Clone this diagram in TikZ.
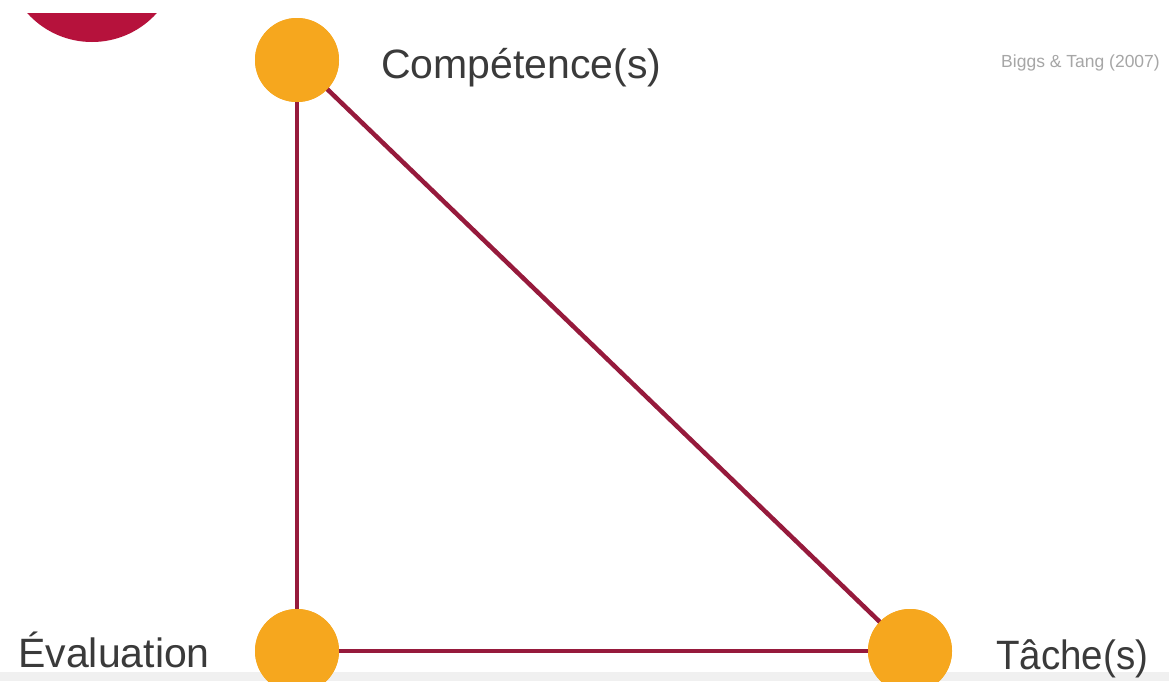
\documentclass[tikz,border=0pt]{standalone}
\usepackage{fontspec}
\setmainfont{Liberation Sans}
\usetikzlibrary{positioning}

\definecolor{pointcol}{RGB}{246,167,30}
\definecolor{edgecol}{RGB}{150,26,60}
\definecolor{blobcol}{RGB}{182,18,60}
\definecolor{labcol}{RGB}{58,58,58}

\begin{document}
\begin{tikzpicture}[
  x=1pt, y=-1pt,
  pt/.style={circle, fill=pointcol, minimum size=84pt, inner sep=0pt},
  edge/.style={draw=edgecol, line width=4.5pt},
  lab/.style={text=labcol, inner sep=0pt, font=\fontsize{41}{47}\selectfont}
]
\useasboundingbox (0,0) rectangle (1169,681);
\clip (0,0) rectangle (1169,681);
\fill[white] (0,0) rectangle (1169,681);
\fill[gray!12] (0,672) rectangle (1169,681);
% cut-off disc, top left
\begin{scope}
  \clip (0,13) rectangle (300,200);
  \fill[blobcol] (92,-45) circle[radius=87];
\end{scope}
% corners
\node[pt] (comp) at (297,60) {};
\node[pt] (eval) at (297,651) {};
\node[pt] (tache) at (910,651) {};
% labels
\node[lab, anchor=base west] (complab) at (381,78) {Compétence(s)};
\node[lab, anchor=base east] (evallab) at (210,667) {Évaluation};
\node[lab, anchor=base west, xscale=0.94] (tachelab) at (996,669) {Tâche(s)};
\node[text=gray!70, font=\fontsize{17.5}{20}\selectfont, anchor=east, inner sep=0pt] (src) at (1160,63) {Biggs \& Tang (2007)};
% sides, then corners redrawn on top
\path[edge] (comp.center) -- (eval.center);
\path[edge] (eval.center) -- (tache.center);
\path[edge] (comp.center) -- (tache.center);
\node[pt] at (comp) {};
\node[pt] at (eval) {};
\node[pt] at (tache) {};
\end{tikzpicture}
\end{document}
